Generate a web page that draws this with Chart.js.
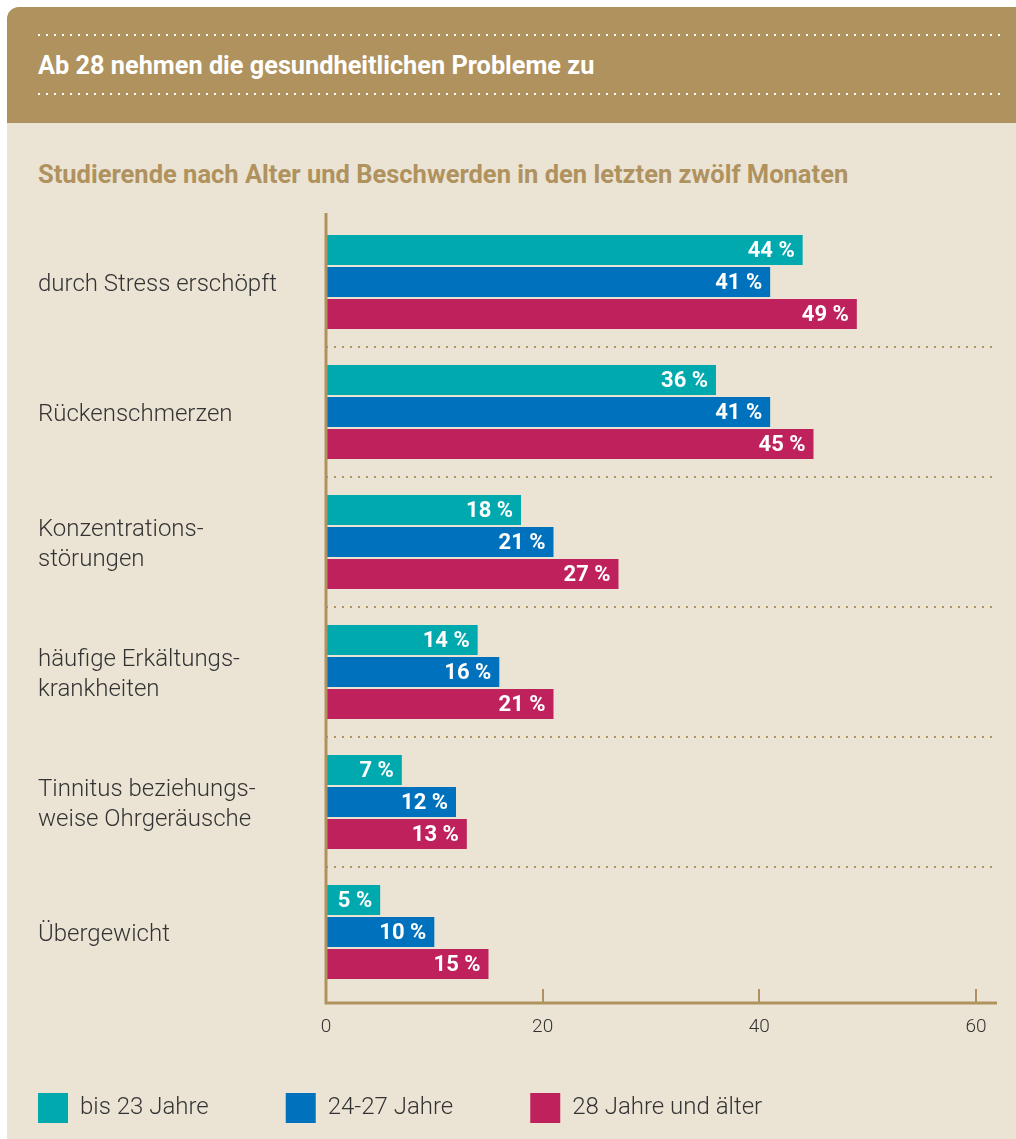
<!DOCTYPE html>
<html lang="de">
<head>
<meta charset="utf-8">
<title>Ab 28 nehmen die gesundheitlichen Probleme zu</title>
<script src="https://cdn.jsdelivr.net/npm/chart.js@4.4.1/dist/chart.umd.min.js"></script>
<style>
  html, body { margin: 0; padding: 0; background: #fff; }
  body { width: 1016px; height: 1139px; position: relative; overflow: hidden; font-family: Roboto, 'Liberation Sans', sans-serif; }
  .card { position: absolute; left: 7px; top: 7px; right: 0; bottom: 0; background: #EBE4D5; border-top-left-radius: 12px; overflow: hidden; }
  .head { position: absolute; left: 0; top: 0; right: 0; height: 116px; background: #AF925E; }
  .dots { position: absolute; left: 31px; width: 962px; height: 2px;
          background-image: linear-gradient(to right, #fff 2px, transparent 2px); background-size: 8px 2px; }
  .title { position: absolute; left: 31px; top: 45px; color: #fff; font-weight: 700; font-size: 25.3px; line-height: 28px; white-space: nowrap; }
  .sub { position: absolute; left: 31px; top: 153px; color: #AF925E; font-weight: 700; font-size: 25.5px; line-height: 28px; white-space: nowrap; }
  #wrap { position: absolute; left: 0; top: 190px; width: 1016px; height: 949px; }
</style>
</head>
<body>
<div class="card">
  <div class="head">
    <div class="dots" style="top:27px"></div>
    <div class="title">Ab 28 nehmen die gesundheitlichen Probleme zu</div>
    <div class="dots" style="top:86px"></div>
  </div>
  <div class="sub">Studierende nach Alter und Beschwerden in den letzten zwölf Monaten</div>
</div>
<div id="wrap"><canvas id="chart" width="1016" height="949"></canvas></div>

<script>
// data (percent)
const categories = [
    'durch Stress erschöpft',
    'Rückenschmerzen',
    ['Konzentrations-', 'störungen'],
    ['häufige Erkältungs-', 'krankheiten'],
    ['Tinnitus beziehungs-', 'weise Ohrgeräusche'],
    'Übergewicht'
];
const seriesNames = ['bis 23 Jahre', '24-27 Jahre', '28 Jahre und älter'];
const bis23 = [44, 36, 18, 14, 7, 5];
const von24bis27 = [41, 41, 21, 16, 12, 10];
const ab28 = [49, 45, 27, 21, 13, 15];
const xTicks = [0, 20, 40, 60];

const colors = ['#00A9AE', '#0071BC', '#BE215B'];
const brown = '#AF925E';
const LEGEND_GAP = 77;

Chart.defaults.font.family = 'Roboto, "Liberation Sans", sans-serif';

const extras = {
    id: 'extras',
    afterLayout(chart) {
        // put the legend where the original has it
        const lg = chart.legend;
        lg.left = 38 - LEGEND_GAP;
        lg.top = 903 - LEGEND_GAP;
        lg.bottom = chart.height;
    },
    afterDatasetsDraw(chart) {
        const ctx = chart.ctx;
        ctx.save();
        ctx.font = 'bold 22px Roboto, sans-serif';
        ctx.fillStyle = '#fff';
        ctx.textAlign = 'right';
        ctx.textBaseline = 'middle';
        chart.data.datasets.forEach((ds, i) => {
            chart.getDatasetMeta(i).data.forEach((bar, j) => {
                ctx.fillText(ds.data[j] + ' %', bar.x - 8, bar.y + 1);
            });
        });
        ctx.restore();
    },
    afterDraw(chart) {
        const ctx = chart.ctx;
        const area = chart.chartArea;
        const xs = chart.scales.x;
        const x0 = xs.getPixelForValue(0);
        const axisY = area.bottom + 6;
        ctx.save();
        ctx.strokeStyle = brown;
        ctx.lineWidth = 3;
        ctx.beginPath();
        ctx.moveTo(x0, area.top - 4);
        ctx.lineTo(x0, axisY);
        ctx.lineTo(area.right, axisY);
        ctx.stroke();
        ctx.lineWidth = 2;
        xTicks.slice(1).forEach(v => {
            const px = Math.round(xs.getPixelForValue(v));
            ctx.beginPath();
            ctx.moveTo(px, axisY);
            ctx.lineTo(px, axisY - 14);
            ctx.stroke();
        });
        ctx.restore();
    }
};

new Chart(document.getElementById('chart'), {
    type: 'bar',
    data: {
        labels: categories,
        datasets: [bis23, von24bis27, ab28].map((d, i) => ({
            label: seriesNames[i],
            data: d,
            backgroundColor: colors[i],
            borderWidth: 0,
            categoryPercentage: 96 / 130,
            barPercentage: 0.9375
        }))
    },
    options: {
        indexAxis: 'y',
        responsive: false,
        animation: false,
        layout: { padding: { left: 38, right: 19, top: 27, bottom: 6 } },
        plugins: {
            legend: {
                position: 'bottom',
                align: 'start',
                maxHeight: 76,
                labels: {
                    boxWidth: 30,
                    boxHeight: 30,
                    padding: LEGEND_GAP,
                    color: '#333',
                    font: { size: 24, weight: '300' }
                }
            },
            tooltip: { enabled: false }
        },
        scales: {
            x: {
                type: 'linear',
                min: 0,
                max: 61.94,
                afterBuildTicks: s => { s.ticks = xTicks.map(v => ({ value: v })); },
                afterFit: s => { s.height = 60; },
                grid: { display: false, drawTicks: false },
                border: { display: false },
                ticks: { padding: 19, color: '#333', font: { size: 19, weight: '300' } }
            },
            y: {
                type: 'category',
                afterFit: s => { s.width = 288; },
                grid: {
                    offset: true,
                    drawTicks: false,
                    lineWidth: 2,
                    color: c => (c.type === 'tick' && c.index > 0) ? brown : 'transparent'
                },
                border: { display: false, dash: [2, 6] },
                ticks: {
                    crossAlign: 'far',
                    autoSkip: false,
                    labelOffset: 3,
                    color: '#333',
                    font: { size: 24, weight: '300', lineHeight: 1.25 }
                }
            }
        }
    },
    plugins: [extras]
});
</script>
</body>
</html>
